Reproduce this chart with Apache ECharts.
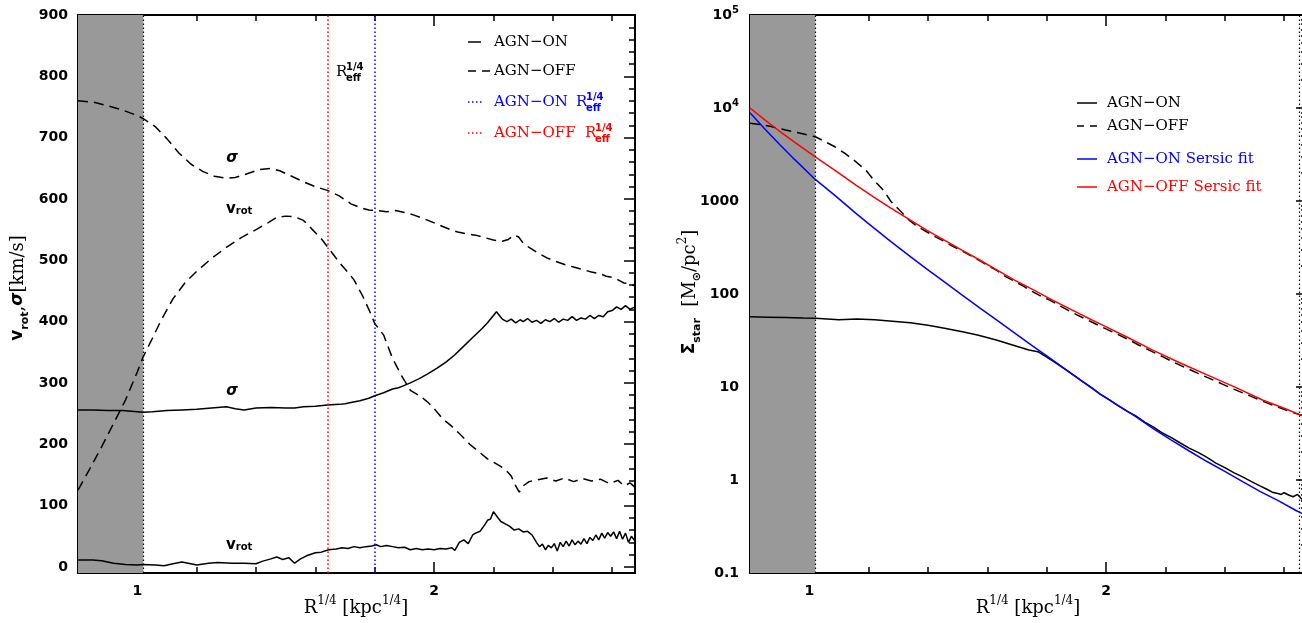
<!DOCTYPE html>
<html><head><meta charset="utf-8">
<script src="https://cdn.jsdelivr.net/npm/echarts@6/dist/echarts.min.js"></script>
<style>html,body{margin:0;padding:0;background:#fff}#c{width:1302px;height:623px}</style>
</head><body><div id="c"></div>
<script>
// ---------------- axis ranges & ticks ----------------
const xRange = [0.8, 2.677];
const xMajorTicks = [1, 2];
const xMinorTicks = [1.2, 1.4, 1.6, 1.8, 2.2, 2.4, 2.6];
const vRange = [-10, 900];
const vMajorTicks = [0, 100, 200, 300, 400, 500, 600, 700, 800, 900];
const sRange = [0.1, 100000];
const sMajorTicks = [0.1, 1, 10, 100, 1000, 10000, 100000];
const sTickLabels = ['0.1', '1', '10', '100', '1000', '10^4', '10^5'];

// ---------------- reference radii (R^1/4) ----------------
const innerLimit = 1.02;
const outerLimitRight = 2.655;
const reffOn = 1.805;
const reffOff = 1.636;

// ---------------- left panel: kinematics [x, km/s] ----------------
const onSigma = [[0.80,256],[0.85,256],[0.90,255],[0.95,255],[1.00,253],[1.02,252],[1.05,253],[1.10,255],[1.15,256],[1.20,257],[1.25,259],[1.30,261],[1.33,258],[1.36,256],[1.40,259],[1.45,260],[1.50,259],[1.53,259],[1.56,261],[1.60,262],[1.64,264],[1.68,265],[1.70,266],[1.72,268],[1.75,271],[1.78,275],[1.80,279],[1.83,284],[1.86,290],[1.88,292],[1.89,294],[1.92,300],[1.95,307],[1.98,315],[2.01,324],[2.04,334],[2.07,346],[2.10,360],[2.13,374],[2.16,388],[2.18,398],[2.20,410],[2.21,416],[2.22,410],[2.23,404],[2.245,400],[2.26,404],[2.275,398],[2.29,403],[2.30,400],[2.315,405],[2.33,399],[2.345,402],[2.36,397],[2.375,403],[2.39,400],[2.405,405],[2.42,399],[2.435,404],[2.45,402],[2.465,408],[2.48,402],[2.495,406],[2.51,404],[2.525,410],[2.54,405],[2.555,410],[2.57,408],[2.585,416],[2.60,418],[2.615,424],[2.63,420],[2.645,426],[2.66,420],[2.677,424]];
const onVrot = [[0.80,11],[0.85,11],[0.88,10],[0.92,6],[0.96,4],[1.00,3],[1.02,4],[1.06,3],[1.09,2],[1.12,5],[1.15,8],[1.18,5],[1.20,3],[1.24,6],[1.27,7],[1.32,6],[1.36,6],[1.40,5],[1.42,9],[1.45,13],[1.47,16],[1.49,12],[1.51,15],[1.53,6],[1.55,13],[1.57,18],[1.60,23],[1.62,24],[1.645,28],[1.67,29],[1.69,31],[1.71,30],[1.73,33],[1.75,31],[1.77,33],[1.79,34],[1.805,36],[1.82,33],[1.84,35],[1.86,33],[1.88,31],[1.90,32],[1.92,28],[1.94,30],[1.96,28],[1.98,29],[2.00,28],[2.02,30],[2.04,29],[2.06,31],[2.07,27],[2.085,40],[2.10,44],[2.115,38],[2.13,52],[2.14,55],[2.155,58],[2.17,68],[2.18,76],[2.19,78],[2.20,90],[2.205,91],[2.215,80],[2.225,74],[2.24,70],[2.255,66],[2.27,60],[2.285,62],[2.30,57],[2.315,58],[2.33,52],[2.345,40],[2.355,33],[2.365,37],[2.375,28],[2.385,35],[2.395,31],[2.405,38],[2.415,26],[2.425,40],[2.435,33],[2.445,42],[2.455,34],[2.465,44],[2.475,36],[2.485,42],[2.495,37],[2.505,46],[2.515,38],[2.525,48],[2.535,43],[2.545,52],[2.555,44],[2.565,55],[2.575,47],[2.585,56],[2.595,50],[2.605,57],[2.615,46],[2.625,58],[2.635,45],[2.645,55],[2.655,40],[2.665,50],[2.677,42]];
const offSigma = [[0.80,760],[0.85,758],[0.90,752],[0.95,745],[1.00,736],[1.02,731],[1.06,718],[1.10,698],[1.14,675],[1.18,657],[1.22,645],[1.26,637],[1.30,634],[1.33,635],[1.37,641],[1.41,648],[1.45,650],[1.48,646],[1.52,637],[1.56,628],[1.60,620],[1.64,614],[1.68,605],[1.72,592],[1.75,586],[1.78,582],[1.81,581],[1.84,579],[1.87,581],[1.90,578],[1.93,574],[1.96,569],[1.99,563],[2.02,557],[2.05,551],[2.08,546],[2.11,543],[2.14,541],[2.17,537],[2.20,533],[2.23,531],[2.25,534],[2.27,541],[2.285,538],[2.30,528],[2.32,521],[2.35,512],[2.38,504],[2.41,498],[2.44,493],[2.47,489],[2.50,485],[2.53,481],[2.56,478],[2.58,474],[2.60,472],[2.62,468],[2.64,463],[2.66,462],[2.677,458]];
const offVrot = [[0.80,125],[0.84,160],[0.88,196],[0.92,234],[0.96,272],[1.00,318],[1.02,343],[1.05,372],[1.08,402],[1.12,437],[1.16,463],[1.20,482],[1.25,503],[1.30,521],[1.35,537],[1.40,550],[1.44,561],[1.47,570],[1.50,572],[1.53,571],[1.56,565],[1.59,550],[1.62,535],[1.65,516],[1.68,497],[1.71,480],[1.73,468],[1.76,441],[1.78,420],[1.80,397],[1.83,378],[1.86,340],[1.89,312],[1.92,288],[1.94,282],[1.96,276],[1.98,268],[2.00,258],[2.03,241],[2.06,229],[2.09,215],[2.12,200],[2.15,188],[2.18,176],[2.21,168],[2.24,159],[2.26,148],[2.275,132],[2.287,122],[2.30,132],[2.32,139],[2.35,142],[2.38,145],[2.41,140],[2.44,145],[2.47,139],[2.50,144],[2.53,140],[2.56,143],[2.59,136],[2.62,141],[2.64,132],[2.66,137],[2.677,130]];

// ---------------- right panel: surface density [x, Msun/pc^2] ----------------
const onSurf = [[0.80,56.8],[0.86,56.3],[0.92,55.8],[0.98,55.3],[1.02,55],[1.06,54],[1.10,53],[1.16,54],[1.22,53],[1.28,51],[1.34,49],[1.40,46],[1.46,42.6],[1.52,39],[1.57,36],[1.63,32],[1.69,28],[1.74,25],[1.77,24],[1.80,21],[1.83,18.2],[1.86,15.7],[1.89,13.4],[1.92,11.5],[1.95,9.9],[1.98,8.4],[2.01,7.3],[2.04,6.3],[2.07,5.5],[2.10,4.9],[2.13,4.2],[2.16,3.7],[2.19,3.2],[2.22,2.85],[2.25,2.5],[2.28,2.2],[2.31,1.98],[2.34,1.75],[2.37,1.52],[2.40,1.36],[2.43,1.2],[2.46,1.08],[2.49,0.96],[2.52,0.86],[2.54,0.80],[2.56,0.74],[2.575,0.72],[2.59,0.70],[2.60,0.73],[2.615,0.69],[2.63,0.66],[2.645,0.70],[2.66,0.62],[2.677,0.60]];
const offSurf = [[0.80,6840],[0.84,6600],[0.871,6310],[0.92,5800],[0.97,5350],[1.02,4910],[1.05,4400],[1.086,3830],[1.12,3250],[1.157,2640],[1.19,2150],[1.217,1680],[1.25,1300],[1.276,980],[1.31,760],[1.336,624],[1.365,530],[1.395,467],[1.42,420],[1.45,375],[1.48,330],[1.514,290],[1.55,252],[1.574,228],[1.60,204],[1.633,178],[1.66,155],[1.69,138],[1.72,122],[1.752,106],[1.78,95],[1.81,86],[1.84,76],[1.871,67],[1.90,60],[1.93,54],[1.96,48.5],[1.99,43.5],[2.03,38],[2.07,33],[2.11,28.3],[2.15,24.5],[2.19,21.2],[2.23,18.3],[2.27,16],[2.31,14],[2.35,12.3],[2.39,10.8],[2.43,9.5],[2.47,8.4],[2.51,7.4],[2.55,6.6],[2.59,5.9],[2.63,5.3],[2.677,4.75]];
const onFit = [[0.80,8890],[0.85,5940],[0.90,4050],[0.95,2800],[1.02,1706],[1.09,1120],[1.157,736],[1.216,518],[1.276,364],[1.335,260],[1.395,186],[1.455,135],[1.514,98],[1.574,71],[1.633,52],[1.69,38.5],[1.74,29.5],[1.80,21.6],[1.86,15.8],[1.92,11.5],[1.98,8.4],[2.04,6.34],[2.10,4.8],[2.16,3.55],[2.22,2.69],[2.28,2.05],[2.34,1.58],[2.40,1.24],[2.46,0.96],[2.52,0.75],[2.58,0.60],[2.64,0.47],[2.677,0.41]];
const offFit = [[0.80,10000],[0.85,7450],[0.90,5620],[0.95,4290],[1.02,2990],[1.09,2100],[1.157,1483],[1.216,1110],[1.276,832],[1.335,640],[1.395,486],[1.455,380],[1.514,296],[1.574,232],[1.633,181],[1.69,142],[1.752,112],[1.81,89],[1.871,71],[1.93,57],[1.99,46],[2.07,34.5],[2.157,24.9],[2.25,18.1],[2.35,13.1],[2.44,9.8],[2.529,7.2],[2.60,5.9],[2.677,4.7]];

// ---------------- styling ----------------
const SANS = 'DejaVu Sans';
const SERIF = 'DejaVu Serif';
const BLUE = '#0000ff', RED = '#ff0000', GREY = '#999999';
const DASH = [10, 6];
const DOT = [1.5, 2.5];

const xMinor = xMinorTicks;
const vMinor = [];
for (let v = 20; v < 900; v += 20) if (v % 100 !== 0) vMinor.push(v);
const sMinor = [];
for (let d = 0.1; d < 100000; d *= 10) for (let k = 2; k <= 9; k++) sMinor.push(+(k * d).toPrecision(3));

const tickStyle = {color: '#000', width: 1.5};
const labelFont = {fontFamily: SANS, fontSize: 14, fontWeight: 'bold', color: '#000'};

function axisSet(dim, g, base, major, minor, labelOpt) {
  const pos = dim === 'x' ? ['bottom', 'top'] : ['left', 'right'];
  const out = [];
  pos.forEach((p, i) => {
    out.push(Object.assign({}, base, {
      gridIndex: g, position: p, splitLine: {show: false},
      axisLine: {show: true, onZero: false, lineStyle: {color: '#000', width: 2}},
      axisTick: {show: true, inside: true, length: 11, customValues: major, lineStyle: tickStyle},
      axisLabel: i === 0 ? labelOpt : {show: false}
    }));
    out.push(Object.assign({}, base, {
      gridIndex: g, position: p, splitLine: {show: false},
      axisLine: {show: false, onZero: false},
      axisTick: {show: true, inside: true, length: 6, customValues: minor, lineStyle: tickStyle},
      axisLabel: {show: false}
    }));
  });
  return out;
}

const xLabel = Object.assign({show: true, customValues: xMajorTicks, margin: 11, formatter: v => String(Math.round(v))}, labelFont);
const xBase = {type: 'value', min: xRange[0], max: xRange[1]};
const xAxes = axisSet('x', 0, xBase, xMajorTicks, xMinor, xLabel).concat(axisSet('x', 1, xBase, xMajorTicks, xMinor, xLabel));

const vLabel = Object.assign({show: true, customValues: vMajorTicks, margin: 10}, labelFont);
const sLabel = Object.assign({
  show: true, customValues: sMajorTicks, margin: 11,
  formatter: v => {
    let best = 0, bd = 1e9;
    sMajorTicks.forEach((t, i) => { const d = Math.abs(Math.log10(t) - Math.log10(v)); if (d < bd) { bd = d; best = i; } });
    const s = sTickLabels[best];
    if (s.indexOf('^') >= 0) { const p = s.split('^'); return '{b|' + p[0] + '}{p|' + p[1] + '}'; }
    return '{b|' + s + '}';
  },
  rich: {
    b: Object.assign({lineHeight: 20, verticalAlign: 'middle'}, labelFont),
    p: {fontFamily: SANS, fontSize: 10, fontWeight: 'bold', color: '#000', lineHeight: 9, verticalAlign: 'top'}
  }
}, labelFont);
const yAxes = axisSet('y', 0, {type: 'value', min: vRange[0], max: vRange[1]}, vMajorTicks, vMinor, vLabel)
  .concat(axisSet('y', 1, {type: 'log', logBase: 10, min: sRange[0], max: sRange[1]}, sMajorTicks, sMinor, sLabel));

function line(name, data, g, color, dash, z) {
  return {type: 'line', name, data, xAxisIndex: 4 * g, yAxisIndex: 4 * g, showSymbol: false, symbol: 'none',
    z: z || 3, lineStyle: {color, width: 1.5, type: dash || 'solid'}, itemStyle: {color}, silent: true};
}
function vline(x, color, width) {
  return {xAxis: x, lineStyle: {color, type: DOT, width: width || 1.5}};
}
function guides(g, lines) {
  return {type: 'line', data: [], xAxisIndex: 4 * g, yAxisIndex: 4 * g, z: 1, silent: true,
    markArea: {silent: true, itemStyle: {color: GREY, opacity: 1}, data: [[{xAxis: xRange[0]}, {xAxis: innerLimit}]]},
    markLine: {silent: true, symbol: ['none', 'none'], label: {show: false}, animation: false, data: lines}};
}

// ---------------- text helpers (graphic) ----------------
function T(x, y, text, o) {
  o = o || {};
  return {type: 'text', x, y, silent: true, z: 10, style: Object.assign({
    text, fill: o.fill || '#000', fontFamily: o.family || SERIF, fontSize: o.size || 15,
    fontWeight: o.weight || 'normal', fontStyle: o.style || 'normal',
    align: o.align || 'left', verticalAlign: o.valign || 'middle',
    textAlign: o.align || 'left', textVerticalAlign: o.valign || 'middle'
  }, o.rich ? {rich: o.rich} : {}), rotation: o.rotation || 0};
}
function L(x1, x2, y, color, dash) {
  return {type: 'line', silent: true, z: 10, shape: {x1, y1: y, x2, y2: y},
    style: {stroke: color, lineWidth: 1.5, lineDash: dash || null}};
}
function richSet(color, big) {
  const ms = big ? 18 : 15, ss = big ? 12 : 10;
  return {
    m: {fontFamily: SERIF, fontSize: ms, fill: color, color, lineHeight: 26, verticalAlign: 'middle'},
    v: {fontFamily: SANS, fontSize: big ? 17 : 15, fontWeight: 'bold', fill: color, color, lineHeight: 14, verticalAlign: 'middle'},
    g: {fontFamily: SANS, fontSize: big ? 17 : 15, fontWeight: 'bold', fontStyle: 'italic', fill: color, color, lineHeight: 14, verticalAlign: 'middle'},
    s: {fontFamily: SANS, fontSize: big ? 11 : 10, fontWeight: 'bold', fill: color, color, lineHeight: big ? 9 : 10, verticalAlign: 'bottom'},
    p: {fontFamily: SERIF, fontSize: ss, fill: color, color, lineHeight: 11, verticalAlign: 'top'}
  };
}
function reff(x, y, color) {
  return [
    T(x, y, 'R', {fill: color}),
    T(x + 10, y - 5, '1/4', {fill: color, size: 10, family: SANS, weight: 'bold'}),
    T(x + 10, y + 6, 'eff', {fill: color, size: 10, family: SANS, weight: 'bold'})
  ];
}

const graphics = [].concat(
  // left legend
  [L(468, 481, 42, '#000'), T(494, 42, 'AGN−ON'),
   L(468, 490, 71, '#000', [8, 6]), T(494, 71, 'AGN−OFF'),
   L(468, 484, 102, BLUE, DOT), T(494, 102, 'AGN−ON', {fill: BLUE}),
   L(468, 484, 133, RED, DOT), T(494, 133, 'AGN−OFF', {fill: RED})],
  reff(576, 102, BLUE), reff(585, 133, RED),
  reff(336, 72, '#000'),
  // right legend
  [L(1077, 1097, 103, '#000'), T(1107, 103, 'AGN−ON'),
   L(1077, 1097, 126, '#000', [7, 6]), T(1107, 126, 'AGN−OFF'),
   L(1077, 1097, 159, BLUE), T(1107, 159, 'AGN−ON Sersic fit', {fill: BLUE}),
   L(1077, 1097, 187, RED), T(1107, 187, 'AGN−OFF Sersic fit', {fill: RED})],
  // curve annotations (left)
  [T(232, 158, 'σ', {family: SANS, weight: 'bold', style: 'italic', align: 'center'}),
   T(226, 209, '{v|v}{s|rot}', {rich: richSet('#000')}),
   T(232, 391, 'σ', {family: SANS, weight: 'bold', style: 'italic', align: 'center'}),
   T(226, 545, '{v|v}{s|rot}', {rich: richSet('#000')})],
  // axis names
  [T(356, 608, '{m|R}{p|1/4}{m| [kpc}{p|1/4}{m|]}', {align: 'center', rich: richSet('#000', true)}),
   T(1028, 608, '{m|R}{p|1/4}{m| [kpc}{p|1/4}{m|]}', {align: 'center', rich: richSet('#000', true)}),
   T(18, 288, '{v|v}{s|rot}{m|,}{g|σ}{m|[km/s]}', {align: 'center', rotation: Math.PI / 2, rich: richSet('#000', true)}),
   T(690, 292, '{v|Σ}{s|star}{m|  [M}{s|⊙}{m|/pc}{p|2}{m|]}', {align: 'center', rotation: Math.PI / 2, rich: richSet('#000', true)})]
);

const chart = echarts.init(document.getElementById('c'), null, {renderer: 'canvas'});
chart.setOption({
  animation: false,
  backgroundColor: '#fff',
  grid: [
    {left: 78, top: 15, width: 557, height: 558, containLabel: false, outerBoundsMode: 'none'},
    {left: 750, top: 15, width: 557, height: 558, containLabel: false, outerBoundsMode: 'none'}
  ],
  xAxis: xAxes,
  yAxis: yAxes,
  series: [
    guides(0, [vline(innerLimit, '#000', 1.2), vline(reffOff, RED), vline(reffOn, BLUE)]),
    line('AGN-ON σ', onSigma, 0, '#000'),
    line('AGN-ON v_rot', onVrot, 0, '#000'),
    line('AGN-OFF σ', offSigma, 0, '#000', DASH),
    line('AGN-OFF v_rot', offVrot, 0, '#000', DASH),
    guides(1, [vline(innerLimit, '#000', 1.2), vline(outerLimitRight, '#000', 1.2)]),
    line('AGN-ON', onSurf, 1, '#000'),
    line('AGN-OFF', offSurf, 1, '#000', DASH),
    line('AGN-ON Sersic fit', onFit, 1, BLUE, null, 4),
    line('AGN-OFF Sersic fit', offFit, 1, RED, null, 4)
  ],
  graphic: graphics
});
</script>
</body></html>
